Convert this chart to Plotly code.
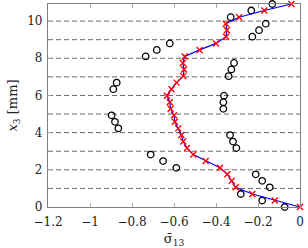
import plotly.graph_objects as go

# data
x3_levels = [0.00, 0.35, 0.70, 1.06, 1.41, 1.76, 2.11, 2.47, 2.82, 3.17, 3.52, 3.87,
             4.23, 4.58, 4.93, 5.28, 5.64, 5.99, 6.34, 6.69, 7.04, 7.40, 7.75, 8.10,
             8.45, 8.80, 9.16, 9.51, 9.86, 10.21, 10.57, 10.92]
sigma_circles = [-0.073, -0.18, -0.282, -0.144, -0.18, -0.211, -0.589, -0.652, -0.711,
                 -0.303, -0.319, -0.333, -0.865, -0.881, -0.897, -0.365, -0.365, -0.362,
                 -0.889, -0.873, -0.340, -0.327, -0.314, -0.735, -0.682, -0.620,
                 -0.227, -0.195, -0.163, -0.330, -0.232, -0.132]
sigma_model = [0.0, -0.12, -0.227, -0.306, -0.325, -0.346, -0.381, -0.449, -0.508,
               -0.538, -0.556, -0.565, -0.580, -0.596, -0.600, -0.616, -0.620, -0.634,
               -0.612, -0.588, -0.556, -0.552, -0.558, -0.549, -0.478, -0.400,
               -0.352, -0.348, -0.353, -0.290, -0.170, -0.041]
x_tickvals = [-1.2, -1.0, -0.8, -0.6, -0.4, -0.2, 0.0]
x_ticktext = ["\u22121.2", "\u22121", "\u22120.8", "\u22120.6", "\u22120.4", "\u22120.2", "0"]
y_tickvals = [0, 2, 4, 6, 8, 10]
y_ticktext = ["0", "2", "4", "6", "8", "10"]
grid_levels = [1, 2, 3, 4, 5, 6, 7, 8, 9, 10]

fig = go.Figure()
fig.add_trace(go.Scatter(x=sigma_circles, y=x3_levels, mode="markers",
                         marker=dict(symbol="circle-open", size=6.5, color="black",
                                     line=dict(width=1.3, color="black")),
                         cliponaxis=False, showlegend=False))
fig.add_trace(go.Scatter(x=sigma_model, y=x3_levels, mode="lines",
                         line=dict(color="#0000ff", width=1.2),
                         cliponaxis=False, showlegend=False))
fig.add_trace(go.Scatter(x=sigma_model, y=x3_levels, mode="markers",
                         marker=dict(symbol="x-thin", size=6, color="#ff0000",
                                     line=dict(width=1.4, color="#ff0000")),
                         cliponaxis=False, showlegend=False))

for g in grid_levels:
    fig.add_shape(type="line", xref="paper", x0=0, x1=1, yref="y", y0=g, y1=g,
                  line=dict(color="#666666", width=1, dash="5px,3px"), layer="below")

font = dict(family="DejaVu Serif", size=12, color="#222222")
title_font = dict(family="DejaVu Serif", size=13, color="#222222")
fig.update_layout(
    width=308, height=248,
    margin=dict(l=48, r=8, t=3, b=39),
    paper_bgcolor="white", plot_bgcolor="white",
    font=font,
    xaxis=dict(range=[-1.2, 0], tickvals=x_tickvals, ticktext=x_ticktext,
               showgrid=False, zeroline=False, showline=True, mirror="ticks",
               linecolor="#808080", linewidth=1.2, ticks="inside", ticklen=4,
               tickcolor="#aaaaaa", tickfont=font, ticklabelstandoff=3,
               title=dict(text="σ\u0304<sub>13</sub>", font=title_font, standoff=7)),
    yaxis=dict(range=[0, 10.92], tickvals=y_tickvals, ticktext=y_ticktext,
               showgrid=False, zeroline=False, showline=True, mirror="ticks",
               linecolor="#808080", linewidth=1.2, ticks="inside", ticklen=3,
               tickcolor="#aaaaaa", tickfont=font, ticklabelstandoff=2,
               title=dict(text="<i>x</i><sub>3</sub> [mm]", font=title_font, standoff=6)),
)
fig.write_html("out.html", config={"displayModeBar": False},
               post_script="document.body.style.margin='0';document.body.style.padding='0';")
